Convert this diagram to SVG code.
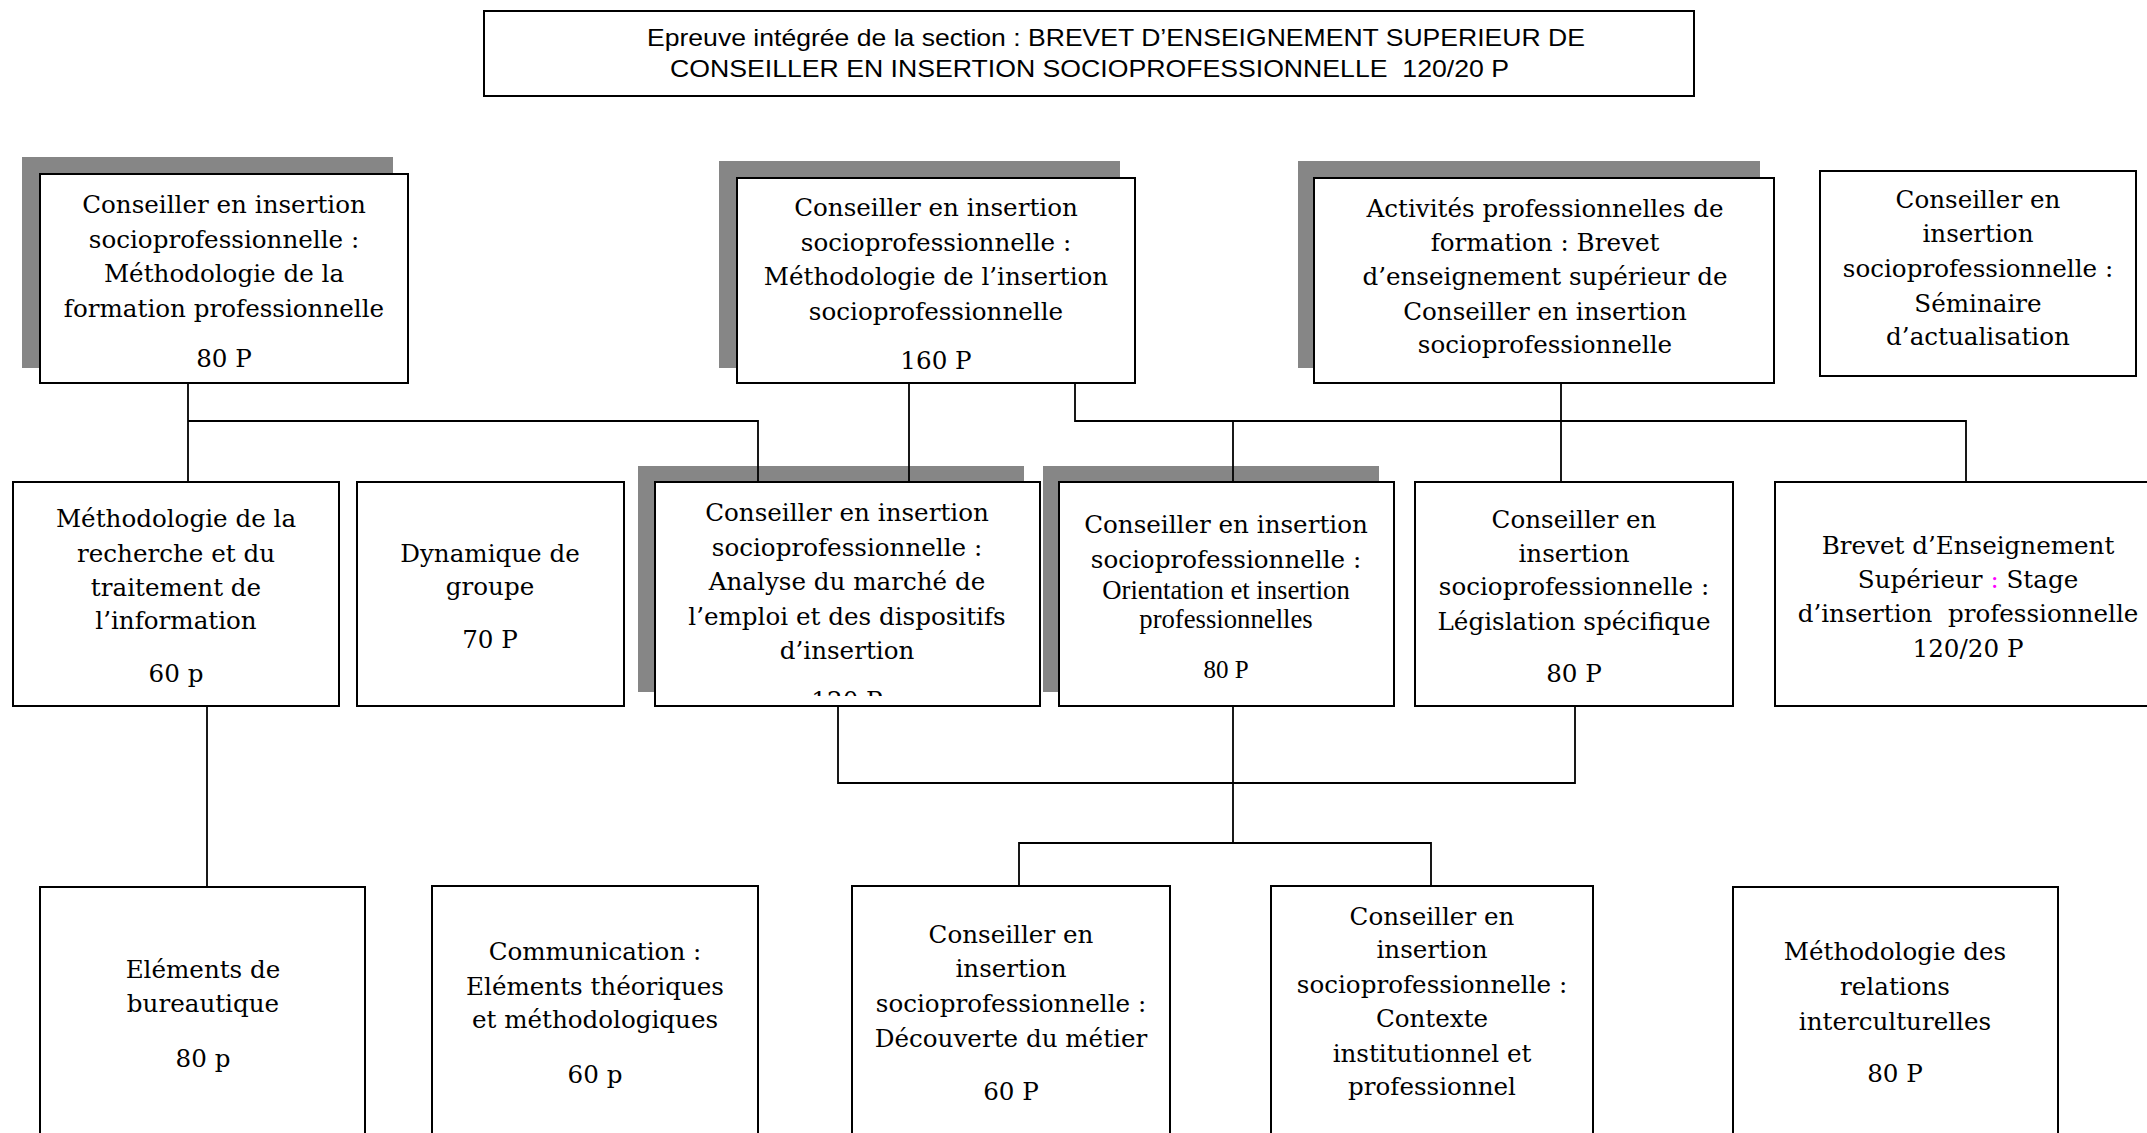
<svg xmlns="http://www.w3.org/2000/svg" width="2147" height="1133" viewBox="0 0 2147 1133">
<style>
.bg{fill:#fff}
.box{fill:#fff;stroke:#000;stroke-width:2}
.sh{fill:#868686}
.t{font-family:"DejaVu Serif",serif;font-size:24.6px;text-anchor:middle;fill:#000}
.ts{font-family:"Liberation Serif",serif;font-size:26.7px;text-anchor:middle;fill:#000}
.tt{font-family:"Liberation Sans",Arial,sans-serif;font-size:24px;fill:#000}
.c{stroke:#000;stroke-width:1.8;fill:none}
</style>
<defs>
<clipPath id="clipG"><rect x="655" y="482" width="385" height="214"/></clipPath>
</defs>
<rect class="bg" x="0" y="0" width="2147" height="1133"/>
<g id="title">
<rect class="box" x="484" y="11" width="1210" height="85"/>
<text class="tt" x="647" y="46" textLength="938" lengthAdjust="spacingAndGlyphs">Epreuve intégrée de la section : BREVET D’ENSEIGNEMENT SUPERIEUR DE</text>
<text class="tt" x="670" y="77" textLength="839" lengthAdjust="spacingAndGlyphs" xml:space="preserve">CONSEILLER EN INSERTION SOCIOPROFESSIONNELLE  120/20 P</text>
</g>
<g id="nodeA">
<rect class="sh" x="22" y="157" width="371" height="211"/>
<rect class="box" x="40" y="174" width="368" height="209"/>
<text class="t" x="224" y="213">Conseiller en insertion</text>
<text class="t" x="224" y="248">socioprofessionnelle :</text>
<text class="t" x="224" y="282">Méthodologie de la</text>
<text class="t" x="224" y="317">formation professionnelle</text>
<text class="t" x="224" y="367">80 P</text>
</g>
<g id="nodeB">
<rect class="sh" x="719" y="161" width="401" height="207"/>
<rect class="box" x="737" y="178" width="398" height="205"/>
<text class="t" x="936" y="216">Conseiller en insertion</text>
<text class="t" x="936" y="251">socioprofessionnelle :</text>
<text class="t" x="936" y="285">Méthodologie de l’insertion</text>
<text class="t" x="936" y="320">socioprofessionnelle</text>
<text class="t" x="936" y="369">160 P</text>
</g>
<g id="nodeC">
<rect class="sh" x="1298" y="161" width="462" height="207"/>
<rect class="box" x="1314" y="178" width="460" height="205"/>
<text class="t" x="1545" y="217">Activités professionnelles de</text>
<text class="t" x="1545" y="251">formation : Brevet</text>
<text class="t" x="1545" y="285">d’enseignement supérieur de</text>
<text class="t" x="1545" y="320">Conseiller en insertion</text>
<text class="t" x="1545" y="353">socioprofessionnelle</text>
</g>
<g id="nodeD">
<rect class="box" x="1820" y="171" width="316" height="205"/>
<text class="t" x="1978" y="208">Conseiller en</text>
<text class="t" x="1978" y="242">insertion</text>
<text class="t" x="1978" y="277">socioprofessionnelle :</text>
<text class="t" x="1978" y="312">Séminaire</text>
<text class="t" x="1978" y="345">d’actualisation</text>
</g>
<g id="nodeE">
<rect class="box" x="13" y="482" width="326" height="224"/>
<text class="t" x="176" y="527">Méthodologie de la</text>
<text class="t" x="176" y="562">recherche et du</text>
<text class="t" x="176" y="596">traitement de</text>
<text class="t" x="176" y="629">l’information</text>
<text class="t" x="176" y="682">60 p</text>
</g>
<g id="nodeF">
<rect class="box" x="357" y="482" width="267" height="224"/>
<text class="t" x="490" y="562">Dynamique de</text>
<text class="t" x="490" y="595">groupe</text>
<text class="t" x="490" y="648">70 P</text>
</g>
<g id="nodeG">
<rect class="sh" x="638" y="466" width="386" height="226"/>
<rect class="box" x="655" y="482" width="385" height="224"/>
<text class="t" x="847" y="521">Conseiller en insertion</text>
<text class="t" x="847" y="556">socioprofessionnelle :</text>
<text class="t" x="847" y="590">Analyse du marché de</text>
<text class="t" x="847" y="625">l’emploi et des dispositifs</text>
<text class="t" x="847" y="659">d’insertion</text>
<text class="t" x="847" y="709" clip-path="url(#clipG)">120 P</text>
</g>
<g id="nodeH">
<rect class="sh" x="1043" y="466" width="336" height="226"/>
<rect class="box" x="1059" y="482" width="335" height="224"/>
<text class="t" x="1226" y="533">Conseiller en insertion</text>
<text class="t" x="1226" y="568">socioprofessionnelle :</text>
<text class="ts" x="1226" y="599">Orientation et insertion</text>
<text class="ts" x="1226" y="628">professionnelles</text>
<text class="ts" x="1226" y="678" style="font-size:25px">80 P</text>
</g>
<g id="nodeI">
<rect class="box" x="1415" y="482" width="318" height="224"/>
<text class="t" x="1574" y="528">Conseiller en</text>
<text class="t" x="1574" y="562">insertion</text>
<text class="t" x="1574" y="595">socioprofessionnelle :</text>
<text class="t" x="1574" y="630">Législation spécifique</text>
<text class="t" x="1574" y="682">80 P</text>
</g>
<g id="nodeJ">
<rect class="box" x="1775" y="482" width="387" height="224"/>
<text class="t" x="1968" y="554">Brevet d’Enseignement</text>
<text class="t" x="1968" y="588">Supérieur <tspan fill="#ff00ff">:</tspan> Stage</text>
<text class="t" x="1968" y="622" xml:space="preserve">d’insertion  professionnelle</text>
<text class="t" x="1968" y="657">120/20 P</text>
</g>
<g id="nodeK">
<rect class="box" x="40" y="887" width="325" height="260"/>
<text class="t" x="203" y="978">Eléments de</text>
<text class="t" x="203" y="1012">bureautique</text>
<text class="t" x="203" y="1067">80 p</text>
</g>
<g id="nodeL">
<rect class="box" x="432" y="886" width="326" height="260"/>
<text class="t" x="595" y="960">Communication :</text>
<text class="t" x="595" y="995">Eléments théoriques</text>
<text class="t" x="595" y="1028">et méthodologiques</text>
<text class="t" x="595" y="1083">60 p</text>
</g>
<g id="nodeM">
<rect class="box" x="852" y="886" width="318" height="260"/>
<text class="t" x="1011" y="943">Conseiller en</text>
<text class="t" x="1011" y="977">insertion</text>
<text class="t" x="1011" y="1012">socioprofessionnelle :</text>
<text class="t" x="1011" y="1047">Découverte du métier</text>
<text class="t" x="1011" y="1100">60 P</text>
</g>
<g id="nodeN">
<rect class="box" x="1271" y="886" width="322" height="260"/>
<text class="t" x="1432" y="925">Conseiller en</text>
<text class="t" x="1432" y="958">insertion</text>
<text class="t" x="1432" y="993">socioprofessionnelle :</text>
<text class="t" x="1432" y="1027">Contexte</text>
<text class="t" x="1432" y="1062">institutionnel et</text>
<text class="t" x="1432" y="1095">professionnel</text>
</g>
<g id="nodeO">
<rect class="box" x="1733" y="887" width="325" height="260"/>
<text class="t" x="1895" y="960">Méthodologie des</text>
<text class="t" x="1895" y="995">relations</text>
<text class="t" x="1895" y="1030">interculturelles</text>
<text class="t" x="1895" y="1082">80 P</text>
</g>
<g id="connectors">
<path class="c" d="M188,383 V482"/>
<path class="c" d="M188,421 H758 V482"/>
<path class="c" d="M909,383 V482"/>
<path class="c" d="M1075,383 V421 H1966 V482"/>
<path class="c" d="M1233,421 V482"/>
<path class="c" d="M1561,383 V482"/>
<path class="c" d="M207,706 V887"/>
<path class="c" d="M838,706 V783 H1575 V706"/>
<path class="c" d="M1233,706 V843"/>
<path class="c" d="M1019,886 V843 H1431 V886"/>
</g>
</svg>
